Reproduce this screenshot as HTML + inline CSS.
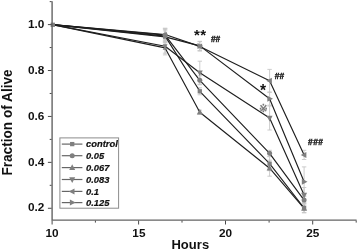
<!DOCTYPE html>
<html><head><meta charset="utf-8"><title>Fraction of Alive</title>
<style>html,body{margin:0;padding:0;background:#fff}body{width:358px;height:251px;overflow:hidden}svg{display:block}</style></head>
<body>
<svg width="358" height="251" viewBox="0 0 358 251">
<rect width="358" height="251" fill="#fff"/>
<g stroke="#c6c6c6" stroke-width="0.9" fill="none">
<path d="M165.10 29.60V42.60M162.90 29.60h4.4M162.90 42.60h4.4"/>
<path d="M199.80 87.80V94.80M197.60 87.80h4.4M197.60 94.80h4.4"/>
<path d="M269.60 156.70V170.70M267.40 156.70h4.4M267.40 170.70h4.4"/>
<path d="M304.10 203.50V212.50M301.90 203.50h4.4M301.90 212.50h4.4"/>
<path d="M165.10 28.60V41.60M162.90 28.60h4.4M162.90 41.60h4.4"/>
<path d="M199.80 75.80V84.80M197.60 75.80h4.4M197.60 84.80h4.4"/>
<path d="M269.60 150.30V156.30M267.40 150.30h4.4M267.40 156.30h4.4"/>
<path d="M304.10 195.10V205.10M301.90 195.10h4.4M301.90 205.10h4.4"/>
<path d="M165.10 40.90V54.90M162.90 40.90h4.4M162.90 54.90h4.4"/>
<path d="M199.80 110.20V114.20M197.60 110.20h4.4M197.60 114.20h4.4"/>
<path d="M269.60 160.20V176.20M267.40 160.20h4.4M267.40 176.20h4.4"/>
<path d="M304.10 203.90V212.90M301.90 203.90h4.4M301.90 212.90h4.4"/>
<path d="M165.10 39.20V53.20M162.90 39.20h4.4M162.90 53.20h4.4"/>
<path d="M199.80 61.20V84.20M197.60 61.20h4.4M197.60 84.20h4.4"/>
<path d="M269.60 106.00V130.00M267.40 106.00h4.4M267.40 130.00h4.4"/>
<path d="M304.10 187.50V202.50M301.90 187.50h4.4M301.90 202.50h4.4"/>
<path d="M165.10 28.20V40.80M162.90 28.20h4.4M162.90 40.80h4.4"/>
<path d="M199.80 41.70V51.10M197.60 41.70h4.4M197.60 51.10h4.4"/>
<path d="M269.60 69.40V92.20M267.40 69.40h4.4M267.40 92.20h4.4"/>
<path d="M304.10 150.30V159.50M301.90 150.30h4.4M301.90 159.50h4.4"/>
<path d="M165.10 30.90V42.90M162.90 30.90h4.4M162.90 42.90h4.4"/>
<path d="M199.80 41.30V50.50M197.60 41.30h4.4M197.60 50.50h4.4"/>
<path d="M269.60 92.20V105.20M267.40 92.20h4.4M267.40 105.20h4.4"/>
<path d="M304.10 166.90V196.50M301.90 166.90h4.4M301.90 196.50h4.4"/>
</g>
<g stroke="#1e1e1e" stroke-width="1.15" fill="none" stroke-linejoin="round">
<polyline points="52.30,24.60 165.10,36.10 199.80,91.30 269.60,163.70 304.10,208.00"/>
<polyline points="52.30,24.60 165.10,35.10 199.80,80.30 269.60,153.30 304.10,200.10"/>
<polyline points="52.30,24.60 165.10,47.90 199.80,112.20 269.60,168.20 304.10,208.40"/>
<polyline points="52.30,24.60 165.10,46.20 199.80,72.70 269.60,118.00 304.10,195.00"/>
<polyline points="52.30,24.60 165.10,34.50 199.80,46.40 269.60,80.80 304.10,154.90"/>
<polyline points="52.30,24.60 165.10,36.90 199.80,45.90 269.60,98.70 304.10,181.70"/>
</g>
<rect x="50.65" y="22.65" width="4.30" height="4.30" fill="#7f7f7f"/>
<rect x="162.95" y="33.95" width="4.30" height="4.30" fill="#7f7f7f"/>
<rect x="197.65" y="89.15" width="4.30" height="4.30" fill="#7f7f7f"/>
<rect x="267.45" y="161.55" width="4.30" height="4.30" fill="#7f7f7f"/>
<rect x="301.95" y="205.85" width="4.30" height="4.30" fill="#7f7f7f"/>
<circle cx="165.10" cy="35.10" r="2.50" fill="#7f7f7f"/>
<circle cx="199.80" cy="80.30" r="2.50" fill="#7f7f7f"/>
<circle cx="269.60" cy="153.30" r="2.50" fill="#7f7f7f"/>
<circle cx="304.10" cy="200.10" r="2.50" fill="#7f7f7f"/>
<polygon points="165.10,45.18 162.70,49.74 167.50,49.74" fill="#7f7f7f"/>
<polygon points="199.80,108.80 196.80,114.50 202.80,114.50" fill="#7f7f7f"/>
<polygon points="269.60,164.80 266.60,170.50 272.60,170.50" fill="#7f7f7f"/>
<polygon points="304.10,205.00 301.10,210.70 307.10,210.70" fill="#7f7f7f"/>
<polygon points="165.10,48.92 162.70,44.36 167.50,44.36" fill="#7f7f7f"/>
<polygon points="199.80,76.10 196.80,70.40 202.80,70.40" fill="#7f7f7f"/>
<polygon points="269.60,121.40 266.60,115.70 272.60,115.70" fill="#7f7f7f"/>
<polygon points="304.10,198.40 301.10,192.70 307.10,192.70" fill="#7f7f7f"/>
<polygon points="162.38,34.50 166.94,32.10 166.94,36.90" fill="#7f7f7f"/>
<polygon points="196.40,46.40 202.10,43.40 202.10,49.40" fill="#7f7f7f"/>
<polygon points="266.20,80.80 271.90,77.80 271.90,83.80" fill="#7f7f7f"/>
<polygon points="300.70,154.90 306.40,151.90 306.40,157.90" fill="#7f7f7f"/>
<polygon points="167.82,36.90 163.26,34.50 163.26,39.30" fill="#7f7f7f"/>
<polygon points="203.20,45.90 197.50,42.90 197.50,48.90" fill="#7f7f7f"/>
<polygon points="273.00,98.70 267.30,95.70 267.30,101.70" fill="#7f7f7f"/>
<polygon points="307.50,181.70 301.80,178.70 301.80,184.70" fill="#7f7f7f"/>
<path d="M52.1 1.2V220.1H356.6" stroke="#646464" stroke-width="1.4" fill="none"/>
<g stroke="#4a4a4a" stroke-width="1" fill="none">
<path d="M47.90 24.60H51.60"/>
<path d="M47.90 70.52H51.60"/>
<path d="M47.90 116.44H51.60"/>
<path d="M47.90 162.36H51.60"/>
<path d="M47.90 208.28H51.60"/>
<path d="M49.70 1.64H51.60"/>
<path d="M49.70 47.56H51.60"/>
<path d="M49.70 93.48H51.60"/>
<path d="M49.70 139.40H51.60"/>
<path d="M49.70 185.32H51.60"/>
<path d="M52.10 220.60V224.50"/>
<path d="M138.60 220.60V224.50"/>
<path d="M225.50 220.60V224.50"/>
<path d="M312.70 220.60V224.50"/>
<path d="M95.40 220.60V222.60"/>
<path d="M182.00 220.60V222.60"/>
<path d="M269.10 220.60V222.60"/>
<path d="M356.20 220.60V222.60"/>
</g>
<g font-family="'Liberation Sans', Arial, sans-serif" font-weight="bold" font-size="11.8" fill="#111">
<text x="44.3" y="27.80" text-anchor="end">1.0</text>
<text x="44.3" y="73.72" text-anchor="end">0.8</text>
<text x="44.3" y="119.64" text-anchor="end">0.6</text>
<text x="44.3" y="165.56" text-anchor="end">0.4</text>
<text x="44.3" y="211.48" text-anchor="end">0.2</text>
<text x="52.10" y="236.9" text-anchor="middle">10</text>
<text x="138.90" y="236.9" text-anchor="middle">15</text>
<text x="225.60" y="236.9" text-anchor="middle">20</text>
<text x="312.80" y="236.9" text-anchor="middle">25</text>
</g>
<text x="190.3" y="248.9" text-anchor="middle" font-family="'Liberation Sans', Arial, sans-serif" font-weight="bold" font-size="13" fill="#111" textLength="37.8">Hours</text>
<text transform="translate(11.5 122.5) rotate(-90)" text-anchor="middle" font-family="'Liberation Sans', Arial, sans-serif" font-weight="bold" font-size="13.8" fill="#111" textLength="106.2" lengthAdjust="spacingAndGlyphs">Fraction of Alive</text>
<rect x="59.9" y="137.9" width="58.7" height="70.3" fill="#fff" stroke="#8c8c8c" stroke-width="1"/>
<path d="M61.8 144.1H82.4" stroke="#666" stroke-width="1.2"/>
<rect x="70.05" y="141.95" width="4.30" height="4.30" fill="#7f7f7f"/>
<text x="86.0" y="147.30" stroke="#111" stroke-width="0.2" font-family="'Liberation Sans', Arial, sans-serif" font-weight="bold" font-style="italic" font-size="9.4" fill="#111">control</text>
<path d="M61.8 155.7H82.4" stroke="#666" stroke-width="1.2"/>
<circle cx="72.20" cy="155.70" r="2.50" fill="#7f7f7f"/>
<text x="86.0" y="158.90" stroke="#111" stroke-width="0.2" font-family="'Liberation Sans', Arial, sans-serif" font-weight="bold" font-style="italic" font-size="9.4" fill="#111">0.05</text>
<path d="M61.8 167.6H82.4" stroke="#666" stroke-width="1.2"/>
<polygon points="72.20,164.20 69.20,169.90 75.20,169.90" fill="#7f7f7f"/>
<text x="86.0" y="170.80" stroke="#111" stroke-width="0.2" font-family="'Liberation Sans', Arial, sans-serif" font-weight="bold" font-style="italic" font-size="9.4" fill="#111">0.067</text>
<path d="M61.8 179.5H82.4" stroke="#666" stroke-width="1.2"/>
<polygon points="72.20,182.90 69.20,177.20 75.20,177.20" fill="#7f7f7f"/>
<text x="86.0" y="182.70" stroke="#111" stroke-width="0.2" font-family="'Liberation Sans', Arial, sans-serif" font-weight="bold" font-style="italic" font-size="9.4" fill="#111">0.083</text>
<path d="M61.8 191.4H82.4" stroke="#666" stroke-width="1.2"/>
<polygon points="68.80,191.40 74.50,188.40 74.50,194.40" fill="#7f7f7f"/>
<text x="86.0" y="194.60" stroke="#111" stroke-width="0.2" font-family="'Liberation Sans', Arial, sans-serif" font-weight="bold" font-style="italic" font-size="9.4" fill="#111">0.1</text>
<path d="M61.8 202.6H82.4" stroke="#666" stroke-width="1.2"/>
<polygon points="75.60,202.60 69.90,199.60 69.90,205.60" fill="#7f7f7f"/>
<text x="86.0" y="205.80" stroke="#111" stroke-width="0.2" font-family="'Liberation Sans', Arial, sans-serif" font-weight="bold" font-style="italic" font-size="9.4" fill="#111">0.125</text>
<text x="200" y="39.5" text-anchor="middle" font-size="15" textLength="12.2" font-family="'Liberation Sans', Arial, sans-serif" font-weight="bold" fill="#111">**</text>
<text x="215.6" y="42.3" text-anchor="middle" font-size="8.4" stroke="#111" stroke-width="0.35" font-family="'Liberation Sans', Arial, sans-serif" font-weight="bold" fill="#111">##</text>
<text x="263.1" y="95.9" text-anchor="middle" font-size="15.6" font-family="'Liberation Sans', Arial, sans-serif" font-weight="bold" fill="#111">*</text>
<text x="279.5" y="78.9" text-anchor="middle" font-size="8.4" stroke="#111" stroke-width="0.35" font-family="'Liberation Sans', Arial, sans-serif" font-weight="bold" fill="#111">##</text>
<text x="263.3" y="111.8" text-anchor="middle" font-size="10.5" font-family="'DejaVu Sans', sans-serif" fill="#777" stroke="#777" stroke-width="0.45">※</text>
<text x="315.5" y="145.2" text-anchor="middle" font-size="8.4" textLength="15" stroke="#111" stroke-width="0.35" font-family="'Liberation Sans', Arial, sans-serif" font-weight="bold" fill="#111">###</text>
</svg>
</body></html>
